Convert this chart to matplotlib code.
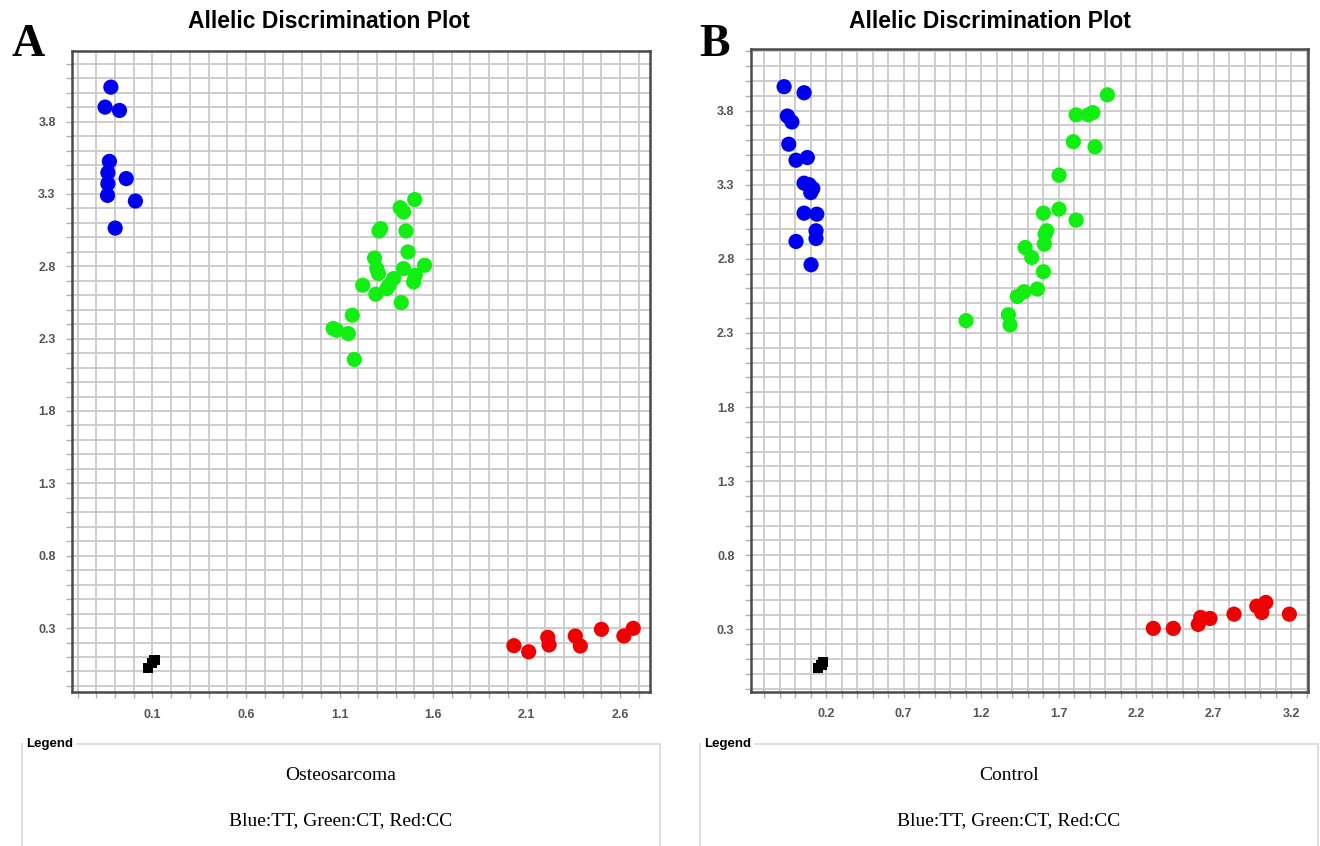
import numpy as np
import matplotlib
matplotlib.use("Agg")
import matplotlib.pyplot as plt

# ---- Panel A: Osteosarcoma ----
a_blue_x = [-0.122, -0.153, -0.076, -0.130, -0.138, -0.138, -0.040, -0.140, 0.009, -0.099]
a_blue_y = [4.038, 3.900, 3.877, 3.525, 3.447, 3.371, 3.406, 3.290, 3.251, 3.064]

a_green_x = [1.502, 1.424, 1.442, 1.320, 1.311, 1.455, 1.466, 1.287, 1.299, 1.308,
             1.442, 1.555, 1.505, 1.496, 1.389, 1.365, 1.353, 1.224, 1.294, 1.430,
             1.168, 1.066, 1.084, 1.147, 1.179]
a_green_y = [3.261, 3.205, 3.175, 3.060, 3.044, 3.044, 2.899, 2.857, 2.784, 2.750,
             2.784, 2.807, 2.738, 2.692, 2.715, 2.669, 2.646, 2.669, 2.607, 2.549,
             2.462, 2.370, 2.358, 2.335, 2.156]

a_red_x = [2.032, 2.111, 2.213, 2.220, 2.360, 2.387, 2.500, 2.620, 2.670]
a_red_y = [0.178, 0.136, 0.236, 0.183, 0.245, 0.176, 0.291, 0.245, 0.298]

a_ntc_x = [0.075, 0.098, 0.111]
a_ntc_y = [0.026, 0.056, 0.079]

# ---- Panel B: Control ----
b_blue_x = [-0.071, 0.058, -0.050, -0.021, -0.041, 0.006, 0.079, 0.058, 0.090, 0.114,
            0.101, 0.058, 0.140, 0.135, 0.135, 0.006, 0.103]
b_blue_y = [3.961, 3.920, 3.763, 3.723, 3.573, 3.465, 3.483, 3.310, 3.300, 3.274,
            3.247, 3.108, 3.101, 2.989, 2.937, 2.917, 2.760]

b_green_x = [2.015, 1.813, 1.892, 1.921, 1.795, 1.935, 1.703, 1.602, 1.703, 1.813,
             1.624, 1.613, 1.608, 1.484, 1.527, 1.602, 1.477, 1.434, 1.563, 1.103,
             1.376, 1.387]
b_green_y = [3.906, 3.771, 3.771, 3.786, 3.590, 3.555, 3.364, 3.108, 3.135, 3.061,
             2.989, 2.967, 2.899, 2.876, 2.809, 2.713, 2.578, 2.546, 2.596, 2.383,
             2.423, 2.354]

b_red_x = [2.311, 2.440, 2.601, 2.617, 2.677, 2.832, 2.979, 3.011, 3.037, 3.189]
b_red_y = [0.307, 0.307, 0.334, 0.381, 0.374, 0.403, 0.457, 0.414, 0.482, 0.403]

b_ntc_x = [0.150, 0.170, 0.180]
b_ntc_y = [0.040, 0.060, 0.080]

a_xticks = [0.1, 0.6, 1.1, 1.6, 2.1, 2.6]
b_xticks = [0.2, 0.7, 1.2, 1.7, 2.2, 2.7, 3.2]
yticks = [0.3, 0.8, 1.3, 1.8, 2.3, 2.8, 3.3, 3.8]

BLUE = "#0000f0"
GREEN = "#11ee11"
RED = "#f00000"


def setup_axes(ax, xlim, ylim, xticks):
    ax.set_xlim(*xlim)
    ax.set_ylim(*ylim)
    xminor = np.round(np.arange(np.ceil(xlim[0] * 10), np.floor(xlim[1] * 10) + 1) / 10, 1)
    yminor = np.round(np.arange(np.ceil(ylim[0] * 10), np.floor(ylim[1] * 10) + 1) / 10, 1)
    ax.set_xticks(xminor, minor=True)
    ax.set_yticks(yminor, minor=True)
    ax.set_xticks(xticks)
    ax.set_yticks(yticks)
    ax.set_xticklabels([f"{v:.1f}" for v in xticks])
    ax.set_yticklabels([f"{v:.1f}" for v in yticks])
    ax.set_axisbelow(True)
    ax.grid(which="both", color="#c9c9c9", linewidth=1.3)
    ax.tick_params(which="both", direction="out", length=4, width=1,
                   color="#b0b0b0", labelcolor="#555555", labelsize=9, pad=8)
    for lab in ax.get_xticklabels() + ax.get_yticklabels():
        lab.set_fontweight("bold")
        lab.set_family("Liberation Sans")
    for sp in ax.spines.values():
        sp.set_color("#4a4a4a")
        sp.set_linewidth(1.8)


def draw(ax, bx, by, gx, gy, rx, ry, nx, ny):
    ax.scatter(bx, by, s=120, color=BLUE, edgecolors="none", zorder=3)
    ax.scatter(gx, gy, s=120, color=GREEN, edgecolors="none", zorder=3)
    ax.scatter(rx, ry, s=120, color=RED, edgecolors="none", zorder=3)
    ax.scatter(nx, ny, s=55, color="black", marker="s", edgecolors="none", zorder=3)


fig = plt.figure(figsize=(13.2, 8.46), dpi=100)

ax1 = fig.add_axes([0.0548, 0.1817, 0.4377, 0.7584])
setup_axes(ax1, (-0.328, 2.76), (-0.144, 4.29), a_xticks)
draw(ax1, a_blue_x, a_blue_y, a_green_x, a_green_y, a_red_x, a_red_y, a_ntc_x, a_ntc_y)

ax2 = fig.add_axes([0.569, 0.1824, 0.422, 0.7593])
setup_axes(ax2, (-0.284, 3.31), (-0.12, 4.213), b_xticks)
draw(ax2, b_blue_x, b_blue_y, b_green_x, b_green_y, b_red_x, b_red_y, b_ntc_x, b_ntc_y)

# titles and panel letters
for xc, letter, lx in [(329, "A", 11), (990, "B", 699)]:
    fig.text(xc / 1320, 1 - 22 / 846, "Allelic Discrimination Plot", ha="center", va="center",
             fontsize=16.5, fontweight="bold", family="Liberation Sans")
    fig.text(lx / 1320, 1 - 45 / 846, letter, ha="left", va="center",
             fontsize=33, fontweight="bold", family="Liberation Serif")

# legend boxes
for x0, x1, name in [(22, 660, "Osteosarcoma"), (700, 1318, "Control")]:
    lax = fig.add_axes([x0 / 1320, 0, (x1 - x0) / 1320, (846 - 744) / 846])
    lax.set_xticks([])
    lax.set_yticks([])
    lax.spines["bottom"].set_visible(False)
    for s in ["top", "left", "right"]:
        lax.spines[s].set_color("#d8d8d8")
        lax.spines[s].set_linewidth(1.2)
    lax.text(4 / (x1 - x0), 1.0, "Legend", transform=lax.transAxes,
             ha="left", va="center", fontsize=9.5, fontweight="bold", family="Liberation Sans",
             bbox=dict(facecolor="white", edgecolor="none", pad=2))
    xc = (x0 + x1) / 2 / 1320
    fig.text(xc, 1 - 775 / 846, name, ha="center", va="center", fontsize=14,
             family="Liberation Serif")
    fig.text(xc, 1 - 821 / 846, "Blue:TT, Green:CT, Red:CC", ha="center", va="center",
             fontsize=14, family="Liberation Serif")

fig.savefig("out.png", dpi=100)
